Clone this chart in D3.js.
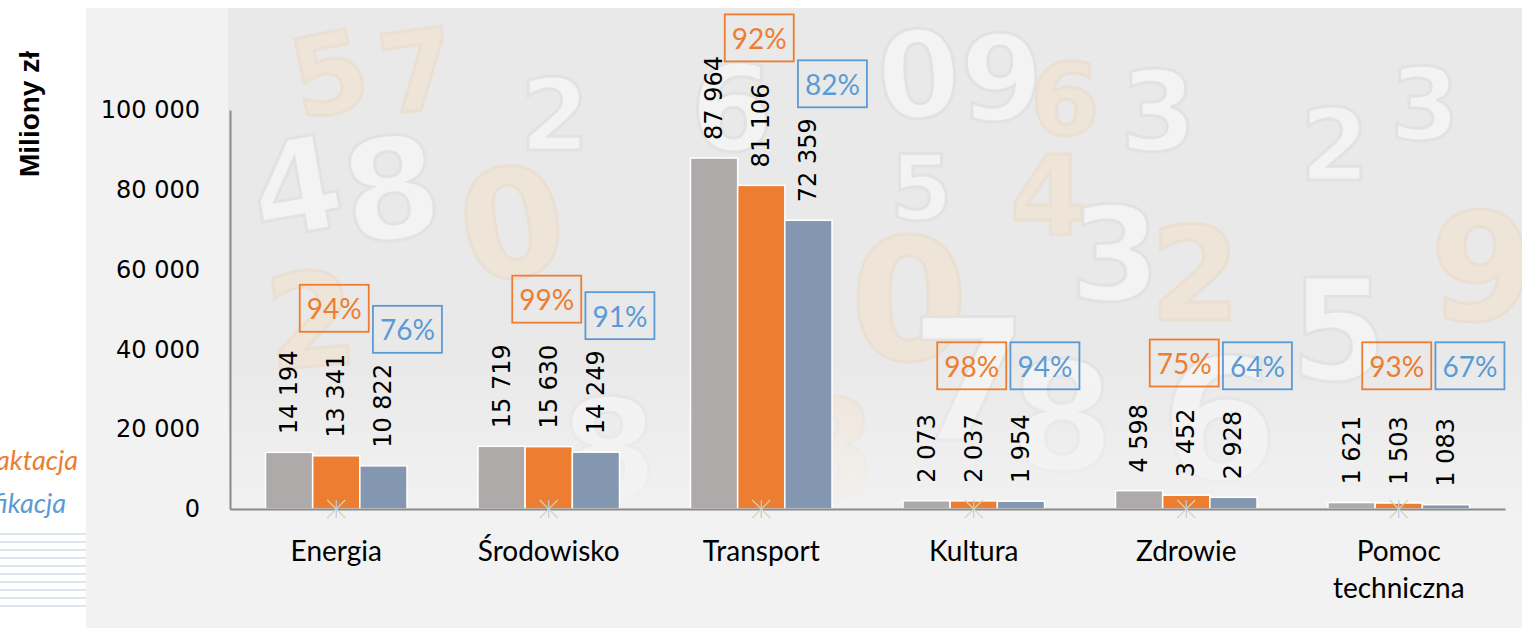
<!DOCTYPE html>
<meta charset="utf-8">
<style>
body{margin:0;background:#fff;}
text{font-family:"DejaVu Sans",Verdana,sans-serif;}
.ytick text{font-size:24px;fill:#000;}
.cat{font-family:Lato,sans-serif;font-size:28px;text-anchor:middle;fill:#000;}
.val{font-size:24px;fill:#000;}
.perc{font-family:Lato,sans-serif;font-size:28px;text-anchor:middle;}
.leg{font-family:Lato,sans-serif;font-style:italic;font-size:27px;text-anchor:end;}
.deco{font-family:"DejaVu Sans",sans-serif;font-weight:bold;}
</style>
<body>
<script src="https://cdn.jsdelivr.net/npm/d3@7"></script>
<script>

var categories=["Energia","Środowisko","Transport","Kultura","Zdrowie","Pomoc techniczna"];
var series=["Alokacja","Kontraktacja","Certyfikacja"];
var alokacja=[14194,15719,87964,2073,4598,1621];
var kontraktacja=[13341,15630,81106,2037,3452,1503];
var certyfikacja=[10822,14249,72359,1954,2928,1083];
var yTicks=[0,20000,40000,60000,80000,100000];

var colors=["#AEAAAA","#ED7D31","#8497B0"];
var boxColors=[null,"#ED7D31","#5B9BD5"];

var W=1522,H=628;
var svg=d3.select("body").append("svg").attr("width",W).attr("height",H);

var pl=d3.formatLocale({decimal:",",thousands:"\u00a0",grouping:[3],currency:["","zł"]});
var fmt=pl.format(",d");

// background panel
svg.append("rect").attr("x",86).attr("y",8).attr("width",W-86).attr("height",H-8).attr("fill","#f2f2f2");

// decorative numbers picture behind the plot
var defs=svg.append("defs");
defs.append("clipPath").attr("id","pic").append("rect")
	.attr("x",228).attr("y",8).attr("width",W-228).attr("height",515);
var fade=defs.append("linearGradient").attr("id","fade").attr("x1",0).attr("y1",0).attr("x2",0).attr("y2",1);
fade.append("stop").attr("offset","0%").attr("stop-color","#f2f2f2").attr("stop-opacity",0);
fade.append("stop").attr("offset","100%").attr("stop-color","#f2f2f2").attr("stop-opacity",1);

var pic=svg.append("g").attr("clip-path","url(#pic)");
pic.append("rect").attr("x",228).attr("y",8).attr("width",W-228).attr("height",515).attr("fill","#e9e9e9");
var deco=[
	["5",300,120,110,1,-12],["7",385,115,110,1,-8],
	["4",260,240,130,0,-10],["8",350,245,140,0,-8],["0",470,285,150,1,-10],
	["2",270,370,130,1,-5],["2",520,150,100,0,0],["6",690,150,120,0,0],
	["0",880,120,120,0,-4],["9",960,120,120,0,0],["6",1030,135,100,1,0],
	["3",1120,150,110,0,0],["5",890,220,90,0,0],["4",1010,235,110,1,0],
	["3",1070,300,130,0,0],["0",850,360,170,1,0],["2",1150,320,130,1,0],
	["7",910,440,170,0,0],["8",1010,470,150,0,0],["6",1160,480,170,0,0],
	["9",1430,320,150,1,0],["2",1300,180,100,0,0],["3",1390,140,100,0,0],
	["5",1290,380,140,0,0],["3",780,500,140,1,0],["8",560,500,140,0,0]
];
pic.selectAll("text.deco").data(deco).join("text")
	.attr("class","deco")
	.attr("transform",d=>"translate("+d[1]+","+d[2]+") rotate("+d[5]+")")
	.attr("font-size",d=>d[3])
	.attr("fill",d=>d[4]?"#efe4d8":"#f3f3f3")
	.attr("stroke",d=>d[4]?"#eadfd3":"#e2e2e2")
	.attr("stroke-width",3)
	.text(d=>d[0]);
pic.append("rect").attr("x",228).attr("y",360).attr("width",W-228).attr("height",165).attr("fill","url(#fade)");

// legend remnants on the left
svg.append("text").attr("class","leg").attr("x",78).attr("y",470).attr("fill","#ED7D31").text("Kontraktacja");
svg.append("text").attr("class","leg").attr("x",66).attr("y",513).attr("fill","#5B9BD5").text("Certyfikacja");
svg.append("g").selectAll("line").data(d3.range(10)).join("line")
	.attr("x1",0).attr("x2",86)
	.attr("y1",d=>534+d*8).attr("y2",d=>534+d*8)
	.attr("stroke","#dce6f2").attr("stroke-width",2);

// scales
var x0=d3.scaleBand().domain(categories).range([230,1505]).paddingInner(0.334).paddingOuter(0.167);
var x1=d3.scaleBand().domain(series).range([0,x0.bandwidth()]);
var y=d3.scaleLinear().domain([0,100000]).range([509,110]);

var rows=categories.map(function(c,i){
	return {cat:c,vals:[alokacja[i],kontraktacja[i],certyfikacja[i]]};
});

// y axis
var ya=svg.append("g").attr("class","ytick").attr("transform","translate(230,0)")
	.call(d3.axisLeft(y).tickValues(yTicks).tickSize(0).tickPadding(30).tickFormat(fmt));
ya.select(".domain").attr("stroke","#898989").attr("stroke-width",2);
ya.selectAll("text").style("font-family","DejaVu Sans").style("font-size","24px");

svg.append("text")
	.attr("transform","translate(39,114) rotate(-90)")
	.attr("text-anchor","middle")
	.style("font-family","'Liberation Sans',Arial,sans-serif")
	.style("font-weight","bold")
	.style("font-size","28px")
	.text("Miliony zł");

// bars
var groups=svg.append("g").selectAll("g").data(rows).join("g")
	.attr("transform",d=>"translate("+x0(d.cat)+",0)");

groups.selectAll("rect").data(d=>d.vals.map((v,j)=>({s:series[j],j:j,v:v}))).join("rect")
	.attr("x",d=>x1(d.s)).attr("width",x1.bandwidth())
	.attr("y",d=>y(d.v)).attr("height",d=>y(0)-y(d.v))
	.attr("fill",d=>colors[d.j])
	.attr("stroke","#fff").attr("stroke-width",1.5);

// x axis
var xa=svg.append("g").attr("transform","translate(0,509)")
	.call(d3.axisBottom(x0).tickSize(0).tickSizeOuter(0).tickFormat(""));
xa.select(".domain").attr("stroke","#898989").attr("stroke-width",2);

// star markers on the axis
var stars=svg.append("g").selectAll("g").data(categories).join("g")
	.attr("transform",c=>"translate("+(x0(c)+x0.bandwidth()/2)+",509)");
[[-9,-9,9,9,"#cfd6b4"],[-9,9,9,-9,"#cfd6b4"],[0,-9,0,9,"#b9cde6"]].forEach(function(l){
	stars.append("line").attr("x1",l[0]).attr("y1",l[1]).attr("x2",l[2]).attr("y2",l[3])
		.attr("stroke",l[4]).attr("stroke-width",1.2);
});

// category labels
svg.append("g").selectAll("text").data(categories).join("text")
	.attr("class","cat")
	.attr("x",c=>x0(c)+x0.bandwidth()/2).attr("y",561)
	.each(function(c){
		var t=d3.select(this);
		var words=c.split(" ");
		if(words.length>1){
			words.forEach(function(w,k){
				t.append("tspan").attr("x",x0(c)+x0.bandwidth()/2).attr("dy",k?37:0).text(w);
			});
		}else t.text(c);
	});

// value labels and percentage boxes
var boxBottomMin=y(30000);
groups.each(function(d){
	var g=d3.select(this);
	var tops=[];
	d.vals.forEach(function(v,j){
		var cx=x1(series[j])+x1.bandwidth()/2;
		var t=g.append("text").attr("class","val")
			.attr("transform","translate("+cx+","+(y(v)-18)+") rotate(-90)")
			.attr("dominant-baseline","central")
			.text(fmt(v));
		tops[j]=y(v)-18-t.node().getComputedTextLength();
	});
	[1,2].forEach(function(j){
		var pct=Math.round(d.vals[j]/d.vals[0]*100)+"%";
		var cx=x1(series[j])+x1.bandwidth()/2+(j==1?-2:24);
		var bottom=Math.min(tops[j]-(j==1?22:11),boxBottomMin);
		var bw=69,bh=47;
		g.append("rect").attr("x",cx-bw/2).attr("y",bottom-bh).attr("width",bw).attr("height",bh)
			.attr("fill","none").attr("stroke",boxColors[j]).attr("stroke-width",1.8);
		g.append("text").attr("class","perc").attr("x",cx).attr("y",bottom-bh/2)
			.attr("dominant-baseline","central").attr("fill",boxColors[j]).text(pct);
	});
});

// top white strip
svg.append("rect").attr("x",0).attr("y",0).attr("width",W).attr("height",8).attr("fill","#fff");
</script>
</body>
</html>
